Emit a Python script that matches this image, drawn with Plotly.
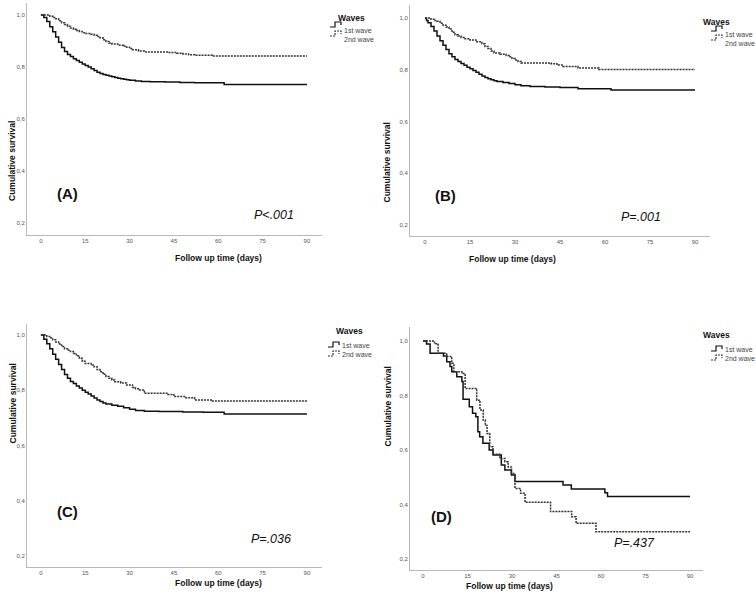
import plotly.graph_objects as go

# ---- data (days, cumulative survival)
a_t1 = [0, 1, 2, 3, 4, 5, 6, 7, 8, 9, 10, 11, 12, 13, 14, 15, 16, 17, 18, 19, 20,
        21, 22, 23, 24, 25, 26, 27, 28, 29, 30, 32, 34, 37, 42, 47, 52, 62, 90]
a_s1 = [1.0, 0.99, 0.975, 0.955, 0.935, 0.915, 0.895, 0.875, 0.86, 0.848, 0.84,
        0.832, 0.825, 0.818, 0.811, 0.806, 0.80, 0.793, 0.786, 0.78, 0.775, 0.771,
        0.768, 0.765, 0.762, 0.76, 0.757, 0.755, 0.753, 0.751, 0.749, 0.746, 0.744,
        0.743, 0.742, 0.74, 0.739, 0.733, 0.733]
a_t2 = [0, 3, 4, 5, 6, 7, 8, 9, 10, 11, 12, 13, 14, 15, 17, 18, 19, 20, 21, 22, 23,
        24, 26, 28, 29, 30, 31, 33, 35, 43, 46, 48, 50, 52, 58, 90]
a_s2 = [1.0, 0.995, 0.99, 0.985, 0.978, 0.97, 0.963, 0.957, 0.95, 0.945, 0.94,
        0.936, 0.932, 0.929, 0.926, 0.922, 0.917, 0.912, 0.905, 0.898, 0.892, 0.888,
        0.884, 0.88, 0.876, 0.871, 0.866, 0.861, 0.858, 0.856, 0.853, 0.85, 0.847,
        0.845, 0.842, 0.842]

b_t1 = [0, 0.5, 1, 2, 3, 4, 5, 6, 7, 8, 9, 10, 11, 12, 13, 14, 15, 16, 17, 18, 19,
        20, 21, 22, 23, 24, 26, 28, 30, 32, 35, 40, 45, 51, 62, 90]
b_s1 = [1.0, 0.99, 0.982, 0.967, 0.95, 0.93, 0.912, 0.895, 0.878, 0.862, 0.85,
        0.84, 0.832, 0.824, 0.817, 0.81, 0.804, 0.797, 0.79, 0.783, 0.776, 0.77,
        0.765, 0.761, 0.757, 0.755, 0.751, 0.747, 0.742, 0.738, 0.735, 0.733,
        0.731, 0.727, 0.722, 0.722]
b_t2 = [0, 2, 3, 4, 5, 6, 7, 8, 9, 10, 11, 12, 13, 15, 17, 19, 20, 21, 22, 23, 25,
        27, 28, 29, 30, 31, 32, 42, 44, 46, 51, 58, 90]
b_s2 = [1.0, 0.995, 0.99, 0.987, 0.98, 0.972, 0.965, 0.957, 0.945, 0.935, 0.93,
        0.925, 0.92, 0.915, 0.908, 0.9, 0.89, 0.882, 0.872, 0.865, 0.86, 0.855,
        0.85, 0.843, 0.838, 0.832, 0.826, 0.823, 0.818, 0.813, 0.807, 0.801, 0.801]

c_t1 = [0, 1, 2, 3, 4, 5, 6, 7, 8, 9, 10, 11, 12, 13, 14, 15, 16, 17, 18, 19, 20,
        21, 22, 24, 26, 28, 30, 32, 35, 40, 48, 55, 62, 90]
c_s1 = [1.0, 0.985, 0.968, 0.95, 0.93, 0.912, 0.893, 0.875, 0.857, 0.843, 0.832,
        0.824, 0.815, 0.808, 0.80, 0.793, 0.786, 0.779, 0.772, 0.765, 0.759, 0.754,
        0.75, 0.746, 0.742, 0.737, 0.731, 0.727, 0.724, 0.723, 0.721, 0.72, 0.714,
        0.714]
c_t2 = [0, 2, 3, 4, 5, 6, 7, 8, 9, 10, 11, 12, 13, 14, 15, 17, 18, 19, 20, 21, 22,
        23, 24, 25, 27, 29, 31, 32, 33, 35, 43, 45, 49, 52, 58, 90]
c_s2 = [1.0, 0.995, 0.99, 0.983, 0.975, 0.967, 0.958, 0.95, 0.945, 0.94, 0.933,
        0.925, 0.916, 0.905, 0.897, 0.891, 0.885, 0.875, 0.867, 0.858, 0.85, 0.843,
        0.837, 0.831, 0.826, 0.819, 0.81, 0.805, 0.801, 0.789, 0.785, 0.777, 0.773,
        0.765, 0.761, 0.761]

d_t1 = [0, 1.2, 2.4, 6.9, 8, 9.1, 9.7, 11.4, 13.1, 13.5, 15.6, 16.7, 17.8, 18.5,
        19.1, 20.2, 22.3, 23.6, 26.4, 27.6, 29.8, 31, 47.2, 50, 61.3, 62.2, 90]
d_s1 = [1.0, 0.989, 0.955, 0.945, 0.924, 0.906, 0.887, 0.869, 0.851, 0.786, 0.759,
        0.735, 0.722, 0.667, 0.649, 0.625, 0.6, 0.582, 0.545, 0.527, 0.508, 0.484,
        0.472, 0.457, 0.443, 0.429, 0.429]
d_t2 = [0, 3.9, 5.1, 8, 9.7, 10.4, 13.1, 14.2, 18.1, 19.2, 20.3, 21, 21.6, 22.5,
        23.6, 25.9, 27.6, 28.7, 29.8, 31, 32.9, 34.4, 43, 50.1, 51.6, 58.3, 90]
d_s2 = [1.0, 0.99, 0.955, 0.943, 0.918, 0.887, 0.881, 0.826, 0.783, 0.747, 0.71,
        0.69, 0.661, 0.612, 0.584, 0.569, 0.557, 0.538, 0.514, 0.459, 0.441, 0.408,
        0.374, 0.355, 0.331, 0.30, 0.30]

panel_labels = ["(A)", "(B)", "(C)", "(D)"]
p_values = ["P<.001", "P=.001", "P=.036", "P=.437"]
wave_names = ["1st wave", "2nd wave"]
x_ticks = [0, 15, 30, 45, 60, 75, 90]
y_ticks = [0.2, 0.4, 0.6, 0.8, 1.0]
y_ticktext = ["0,2", "0,4", "0,6", "0,8", "1,0"]

W, H = 756, 599
FONT = "Liberation Sans, Arial, sans-serif"


def px(x):
    return x / W


def py(y):
    return 1 - y / H


# pixel boxes of each panel: (left, right, top, bottom), and axis ranges
panels = [
    dict(box=(27, 322, 3, 235), xr=[-4.7, 95.1], yr=[0.154, 1.046],
         data=(a_t1, a_s1, a_t2, a_s2), lab=(55, 183), pv=(274, 215),
         leg=(330, 11), yt=5),
    dict(box=(410, 710, 5, 236), xr=[-5, 95], yr=[0.1575, 1.0502],
         data=(b_t1, b_s1, b_t2, b_s2), lab=(445, 185), pv=(663, 217),
         leg=(711, 15), yt=386),
    dict(box=(27, 322, 324, 567), xr=[-4.7, 95.1], yr=[0.1602, 1.0398],
         data=(c_t1, c_s1, c_t2, c_s2), lab=(55, 522), pv=(271, 548),
         leg=(328, 331), yt=5),
    dict(box=(410, 703, 327, 570), xr=[-4.38, 94.38], yr=[0.1597, 1.0514],
         data=(d_t1, d_s1, d_t2, d_s2), lab=(441, 527), pv=(657, 552),
         leg=(711, 335), yt=387),
]

fig = go.Figure()
annotations = []
shapes = []
layout = {}

for i, p in enumerate(panels):
    n = "" if i == 0 else str(i + 1)
    t1, s1, t2, s2 = p["data"]
    fig.add_trace(go.Scatter(
        x=t1, y=s1, mode="lines", line_shape="hv", name=wave_names[0],
        line=dict(color="#111111", width=1.5),
        xaxis="x" + n, yaxis="y" + n, showlegend=False,
    ))
    fig.add_trace(go.Scatter(
        x=t2, y=s2, mode="lines", line_shape="hv", name=wave_names[1],
        line=dict(color="#333333", width=1.5, dash="2px,1px"),
        xaxis="x" + n, yaxis="y" + n, showlegend=False,
    ))

    l, r, t, b = p["box"]
    layout["xaxis" + n] = dict(
        domain=[px(l), px(r)], range=p["xr"], anchor="y" + n,
        tickvals=x_ticks, showline=True, linecolor="#b8b8b8", linewidth=1,
        showgrid=False, zeroline=False, ticks="",
        tickfont=dict(size=6, color="#555555", family=FONT),
    )
    layout["yaxis" + n] = dict(
        domain=[py(b), py(t)], range=p["yr"], anchor="x" + n,
        tickvals=y_ticks, ticktext=y_ticktext, showline=True,
        linecolor="#b8b8b8", linewidth=1, showgrid=False, zeroline=False,
        ticks="", tickfont=dict(size=6, color="#555555", family=FONT),
    )

    # axis titles
    annotations.append(dict(
        text="<b>Follow up time (days)</b>", xref="paper", yref="paper",
        x=px((l + r) / 2 - 2), y=py(b + 23), showarrow=False,
        font=dict(size=8.5, color="#111111", family=FONT),
    ))
    annotations.append(dict(
        text="<b>Cumulative survival</b>", xref="paper", yref="paper",
        x=px(p["yt"]), y=py((t + b) / 2), showarrow=False, textangle=-90,
        font=dict(size=8.5, color="#111111", family=FONT),
    ))
    # panel letter and p value
    annotations.append(dict(
        text="<b>" + panel_labels[i] + "</b>", xref="paper", yref="paper",
        x=px(p["lab"][0]), y=py(p["lab"][1]), showarrow=False,
        font=dict(size=15, color="#111111", family=FONT),
    ))
    annotations.append(dict(
        text="<i>" + p_values[i] + "</i>", xref="paper", yref="paper",
        x=px(p["pv"][0]), y=py(p["pv"][1]), showarrow=False,
        font=dict(size=12.5, color="#111111", family=FONT),
    ))

    # legend block
    lx, ly = p["leg"]
    annotations.append(dict(
        text="<b>Waves</b>", xref="paper", yref="paper",
        x=px(lx + 21), y=py(ly), showarrow=False,
        font=dict(size=8.5, color="#111111", family=FONT),
    ))
    for k, name in enumerate(wave_names):
        yy = ly + 14 + 9 * k
        annotations.append(dict(
            text=name, xref="paper", yref="paper", xanchor="left",
            x=px(lx + 12), y=py(yy), showarrow=False,
            font=dict(size=7, color="#444444", family=FONT),
        ))
        path = "M {} {} L {} {} L {} {} L {} {} L {} {}".format(
            px(lx), py(yy + 2), px(lx + 5), py(yy + 2), px(lx + 5), py(yy - 3),
            px(lx + 11), py(yy - 3), px(lx + 11), py(yy))
        shapes.append(dict(
            type="path", path=path, xref="paper", yref="paper",
            line=dict(color="#111111" if k == 0 else "#333333", width=1.2,
                      dash="solid" if k == 0 else "2px,1px"),
        ))

fig.update_layout(
    width=W, height=H,
    margin=dict(l=0, r=0, t=0, b=0),
    paper_bgcolor="white", plot_bgcolor="white",
    font=dict(family=FONT),
    annotations=annotations, shapes=shapes,
    **layout,
)

# the page body has a default 8px margin; drop it so the figure fills the window
fig.write_html("out.html", config={"displayModeBar": False},
               post_script="document.body.style.margin='0';")
